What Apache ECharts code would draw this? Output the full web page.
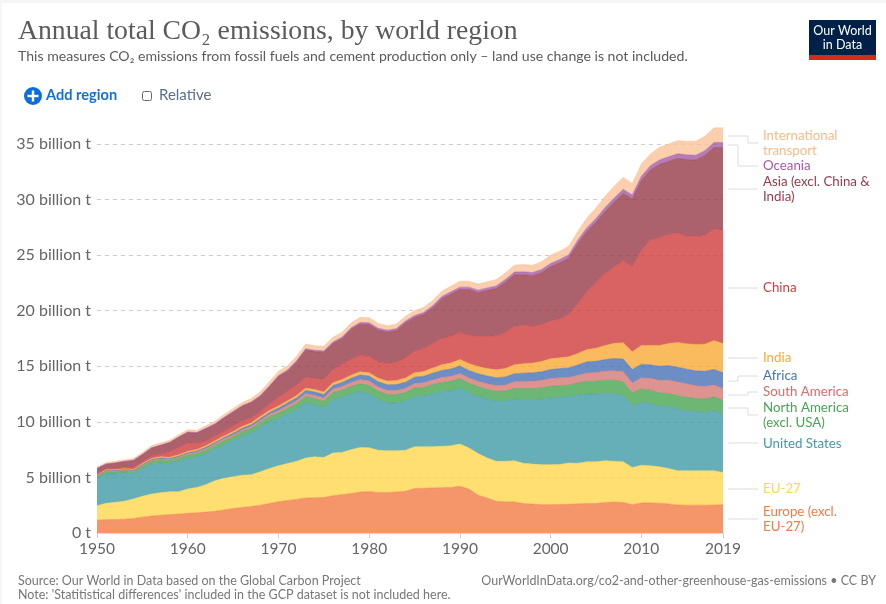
<!DOCTYPE html>
<html>
<head>
<meta charset="utf-8">
<title>Annual total CO2 emissions, by world region</title>
<script src="https://cdn.jsdelivr.net/npm/echarts@6/dist/echarts.min.js"></script>
<style>
html, body { margin: 0; padding: 0; background: #fff; }
#main { width: 886px; height: 604px; }
#edge { position: absolute; left: 0; top: 0; width: 884px; height: 601px; border-left: 2px solid #f6f6f6; border-top: 3px solid #f6f6f6; pointer-events: none; }
</style>
</head>
<body>
<div id="main"></div>
<div id="edge"></div>
<script>
let years = [];
for (let y = 1950; y <= 2019; y++) years.push(String(y));

// values in billion tonnes, bottom of the stack first
let europe = [1.15,1.2,1.22,1.24,1.3,1.42,1.52,1.6,1.65,1.7,1.77,1.82,1.88,1.95,2.08,2.2,2.3,2.38,2.5,2.65,2.82,2.92,3.02,3.15,3.18,3.2,3.35,3.45,3.55,3.68,3.72,3.65,3.65,3.68,3.75,4.0,4.02,4.05,4.08,4.1,4.2,3.95,3.4,3.15,2.85,2.8,2.8,2.65,2.6,2.55,2.55,2.57,2.58,2.62,2.65,2.65,2.75,2.78,2.75,2.55,2.7,2.7,2.68,2.62,2.52,2.5,2.5,2.5,2.52,2.55];
let eu27 = [1.3,1.47,1.54,1.61,1.76,1.88,1.98,2.03,2.05,2.02,2.19,2.28,2.47,2.75,2.84,2.87,2.9,2.87,3.0,3.15,3.23,3.33,3.43,3.6,3.67,3.6,3.85,3.8,3.95,4.02,3.95,3.8,3.75,3.72,3.7,3.75,3.75,3.72,3.72,3.75,3.8,3.7,3.75,3.6,3.6,3.65,3.7,3.62,3.6,3.6,3.6,3.6,3.72,3.66,3.75,3.75,3.75,3.67,3.65,3.35,3.4,3.35,3.27,3.18,3.08,3.1,3.1,3.1,3.08,2.9];
let unitedStates = [2.49,2.63,2.54,2.55,2.24,2.5,2.7,2.67,2.55,2.73,2.74,2.75,2.8,2.85,3.03,3.23,3.5,3.75,4.0,4.2,4.25,4.45,4.65,4.95,4.65,4.45,4.8,4.95,5.0,5.0,4.85,4.55,4.3,4.3,4.4,4.5,4.53,4.75,4.9,4.95,5.05,4.95,5.15,5.3,5.4,5.4,5.55,5.73,5.8,5.9,6.0,6.03,5.95,6.12,6.1,6.1,6.05,6.1,5.95,5.55,5.65,5.55,5.45,5.55,5.55,5.4,5.3,5.25,5.4,5.25];
let northAmerica = [.15,.2,.2,.2,.2,.22,.25,.27,.27,.28,.3,.3,.32,.33,.35,.37,.4,.42,.45,.47,.5,.52,.55,.58,.6,.6,.63,.65,.68,.72,.75,.75,.75,.75,.78,.8,.8,.82,.85,.85,.85,.87,.87,.87,.9,.92,.95,1.0,1.0,1.0,1.05,1.05,1.05,1.1,1.15,1.15,1.2,1.2,1.25,1.15,1.2,1.25,1.2,1.2,1.2,1.2,1.2,1.2,1.25,1.25];
let southAmerica = [.06,.07,.07,.07,.08,.08,.09,.1,.1,.1,.12,.12,.13,.14,.15,.15,.16,.17,.18,.19,.21,.23,.24,.26,.28,.29,.31,.33,.36,.38,.4,.38,.38,.38,.38,.4,.42,.43,.45,.45,.45,.47,.48,.5,.52,.55,.6,.63,.66,.68,.7,.72,.7,.7,.75,.78,.82,.85,.9,.9,1.02,1.07,1.13,1.2,1.23,1.22,1.15,1.12,1.07,1.05];
let africa = [.04,.05,.05,.05,.06,.07,.07,.08,.08,.09,.11,.11,.11,.12,.13,.15,.16,.16,.17,.19,.23,.25,.27,.29,.3,.31,.33,.35,.38,.42,.45,.48,.5,.52,.55,.57,.58,.6,.63,.65,.68,.68,.68,.7,.7,.72,.73,.75,.75,.77,.8,.82,.85,.92,1.0,1.02,1.03,1.1,1.15,1.2,1.22,1.2,1.27,1.3,1.33,1.32,1.34,1.38,1.4,1.42];
let india = [.06,.07,.07,.07,.08,.08,.09,.1,.11,.11,.12,.13,.14,.15,.15,.16,.17,.17,.18,.18,.18,.19,.2,.21,.22,.24,.25,.27,.27,.29,.29,.32,.34,.36,.38,.4,.43,.47,.5,.55,.58,.62,.65,.68,.72,.76,.81,.85,.88,.94,.97,.97,1.0,1.03,1.1,1.18,1.26,1.37,1.46,1.6,1.68,1.76,1.88,2.0,2.23,2.28,2.38,2.44,2.59,2.63];
let china = [.08,.1,.12,.13,.16,.18,.21,.25,.51,.67,.78,.55,.44,.44,.44,.48,.52,.43,.44,.57,.77,.88,.94,.99,1.01,1.15,1.2,1.35,1.46,1.49,1.49,1.47,1.57,1.66,1.8,1.95,2.06,2.2,2.36,2.41,2.42,2.55,2.68,2.88,3.05,3.26,3.46,3.47,3.3,3.32,3.41,3.49,3.82,4.48,5.23,5.9,6.5,6.87,7.4,7.7,8.6,9.5,9.7,9.85,9.85,9.7,9.7,9.8,10.05,10.17];
let asia = [.46,.39,.47,.5,.63,.61,.72,.77,.79,.9,.91,.93,1.08,1.03,1.17,1.26,1.28,1.37,1.36,1.55,1.88,1.79,2.09,2.43,2.41,2.42,2.32,2.33,2.66,2.78,2.85,2.85,2.82,2.84,3.16,3.0,3.06,3.21,3.57,3.77,3.87,4.11,3.96,4.14,4.25,4.49,4.62,4.53,4.56,4.65,4.87,5.04,5.05,5.39,5.4,5.42,5.56,5.82,6.03,6.04,6.24,6.27,6.57,6.53,6.71,6.88,6.88,7.17,7.32,7.46];
let oceania = [.03,.03,.03,.03,.04,.04,.04,.04,.05,.05,.05,.05,.06,.06,.07,.07,.08,.08,.09,.09,.1,.11,.11,.12,.12,.13,.14,.14,.15,.16,.17,.17,.18,.18,.18,.19,.19,.2,.21,.22,.22,.22,.23,.23,.24,.25,.26,.27,.28,.29,.3,.31,.32,.33,.34,.35,.36,.37,.38,.38,.39,.4,.41,.41,.42,.42,.43,.44,.45,.45];
let transport = [.12,.14,.14,.15,.15,.17,.18,.19,.19,.2,.21,.21,.22,.23,.24,.26,.28,.3,.33,.36,.38,.38,.4,.42,.41,.41,.42,.43,.44,.46,.45,.43,.41,.41,.42,.44,.46,.47,.48,.5,.53,.53,.55,.55,.57,.6,.62,.65,.67,.7,.75,.75,.76,.8,.88,.95,1.02,1.07,1.08,1.03,1.1,1.05,1.14,1.16,1.18,1.23,1.27,1.3,1.32,1.32];

let seriesNames = ['Europe (excl. EU-27)', 'EU-27', 'United States', 'North America (excl. USA)', 'South America', 'Africa', 'India', 'China', 'Asia (excl. China & India)', 'Oceania', 'International transport'];
let seriesValues = [europe, eu27, unitedStates, northAmerica, southAmerica, africa, india, china, asia, oceania, transport];
let seriesColors = ['#F17A45', '#FFD74E', '#409BA6', '#48A553', '#D47873', '#4772B6', '#F7AA36', '#D03C3C', '#973B49', '#A45BA2', '#FAC299'];

let myChart = echarts.init(document.getElementById('main'));

// label at the right side: text lines, colour, line heights and connector path
let endLabels = [
    { lines: ['International', 'transport'], y: 136, color: '#F9B98A', path: [[728,136],[748,136],[748,143],[758,143]] },
    { lines: ['Oceania'], y: 166, color: '#A45BA2', path: [[728,145],[738,145],[738,166],[758,166]] },
    { lines: ['Asia (excl. China &', 'India)'], y: 182, color: '#973B49', path: [[728,189],[758,189]] },
    { lines: ['China'], y: 287.5, color: '#D03C3C', path: [[728,288],[758,288]] },
    { lines: ['India'], y: 358, color: '#F7AA36', path: [[728,358],[758,358]] },
    { lines: ['Africa'], y: 376, color: '#4772B6', path: [[728,381],[738,381],[738,376],[758,376]] },
    { lines: ['South America'], y: 392, color: '#DC6A6A', path: [[728,395],[748,395],[748,392],[758,392]] },
    { lines: ['North America', '(excl. USA)'], y: 408, color: '#48A553', path: [[728,408],[748,408],[748,415],[758,415]] },
    { lines: ['United States'], y: 443.5, color: '#409BA6', path: [[728,443],[758,443]] },
    { lines: ['EU-27'], y: 489, color: '#FFD74E', path: [[728,489],[758,489]] },
    { lines: ['Europe (excl.', 'EU-27)'], y: 512, color: '#F17A45', path: [[728,519],[758,519]] }
];

let graphics = [
    { type: 'text', left: 18, top: 18, style: { text: 'Annual total CO₂ emissions, by world region', fontFamily: 'Liberation Serif', fontSize: 27.7, fill: '#5b5b5b' } },
    { type: 'text', left: 18, top: 49, style: { text: 'This measures CO₂ emissions from fossil fuels and cement production only – land use change is not included.', fontFamily: 'Lato', fontSize: 14.1, fill: '#5b5b5b' } },
    // logo
    { type: 'rect', shape: { x: 809, y: 20, width: 67, height: 40 }, style: { fill: '#002147' } },
    { type: 'rect', shape: { x: 809, y: 55, width: 67, height: 5 }, style: { fill: '#D42B21' } },
    { type: 'text', x: 842.5, y: 37.5, style: { text: 'Our World\nin Data', align: 'center', verticalAlign: 'middle', lineHeight: 14, fontFamily: 'Lato', fontSize: 12.5, fill: '#fff' } },
    // controls
    { type: 'circle', shape: { cx: 33, cy: 96, r: 9 }, style: { fill: '#0A6FD8' } },
    { type: 'rect', shape: { x: 27.5, y: 94.8, width: 11, height: 2.4 }, style: { fill: '#fff' } },
    { type: 'rect', shape: { x: 31.8, y: 90.5, width: 2.4, height: 11 }, style: { fill: '#fff' } },
    { type: 'text', left: 46, top: 88, style: { text: 'Add region', fontFamily: 'Lato', fontSize: 14.6, fontWeight: 'bold', fill: '#1470D6' } },
    { type: 'rect', shape: { x: 142.5, y: 91.5, width: 9, height: 9, r: 2 }, style: { fill: '#fff', stroke: '#666', lineWidth: 1 } },
    { type: 'text', left: 159, top: 87.5, style: { text: 'Relative', fontFamily: 'Lato', fontSize: 15, fill: '#5B6E8C' } },
    // footer
    { type: 'text', left: 18, top: 574, style: { text: 'Source: Our World in Data based on the Global Carbon Project', fontFamily: 'Lato', fontSize: 12.5, fill: '#777' } },
    { type: 'text', left: 18, top: 588, style: { text: "Note: 'Statitistical differences' included in the GCP dataset is not included here.", fontFamily: 'Lato', fontSize: 12.5, fill: '#777' } },
    { type: 'text', right: 10, top: 574, style: { text: 'OurWorldInData.org/co2-and-other-greenhouse-gas-emissions • CC BY', fontFamily: 'Lato', fontSize: 12.5, fill: '#777' } }
];
endLabels.forEach(function (item) {
    graphics.push({ type: 'polyline', shape: { points: item.path }, style: { stroke: '#dcdcdc', lineWidth: 1, fill: null } });
    item.lines.forEach(function (line, i) {
        graphics.push({ type: 'text', x: 763, y: item.y + i * 14.5, style: { text: line, verticalAlign: 'middle', fontFamily: 'Lato', fontSize: 13.3, fill: item.color } });
    });
});

let option = {
    animation: false,
    backgroundColor: '#fff',
    textStyle: { fontFamily: 'Lato' },
    grid: { left: 97, right: 163, top: 127.3, bottom: 71 },
    xAxis: {
        type: 'category',
        boundaryGap: false,
        data: years,
        axisLine: { show: true, lineStyle: { color: '#ddd' } },
        axisTick: {
            show: true,
            length: 5,
            lineStyle: { color: '#ccc' },
            interval: function (i, v) { return Number(v) % 10 === 0 || v === '2019'; }
        },
        axisLabel: {
            color: '#666',
            fontSize: 15.5,
            margin: 8,
            interval: function (i, v) { return Number(v) % 10 === 0 || v === '2019'; }
        }
    },
    yAxis: {
        type: 'value',
        min: 0,
        max: 36.5,
        interval: 5,
        axisLine: { show: false },
        axisTick: { show: false },
        axisLabel: {
            color: '#666',
            fontSize: 16,
            margin: 6,
            showMaxLabel: false,
            formatter: function (v) { return v === 0 ? '0 t' : v + ' billion t'; }
        },
        splitLine: { show: true, showMinLine: false, showMaxLine: false, lineStyle: { color: '#ccc', type: [4, 4] } }
    },
    series: seriesNames.map(function (name, i) {
        return {
            name: name,
            type: 'line',
            stack: 'total',
            data: seriesValues[i],
            symbol: 'none',
            lineStyle: { width: 0.5, color: seriesColors[i] },
            itemStyle: { color: seriesColors[i] },
            areaStyle: { color: seriesColors[i], opacity: 0.8 },
            z: 3
        };
    }),
    graphic: graphics
};
option && myChart.setOption(option);
</script>
</body>
</html>
